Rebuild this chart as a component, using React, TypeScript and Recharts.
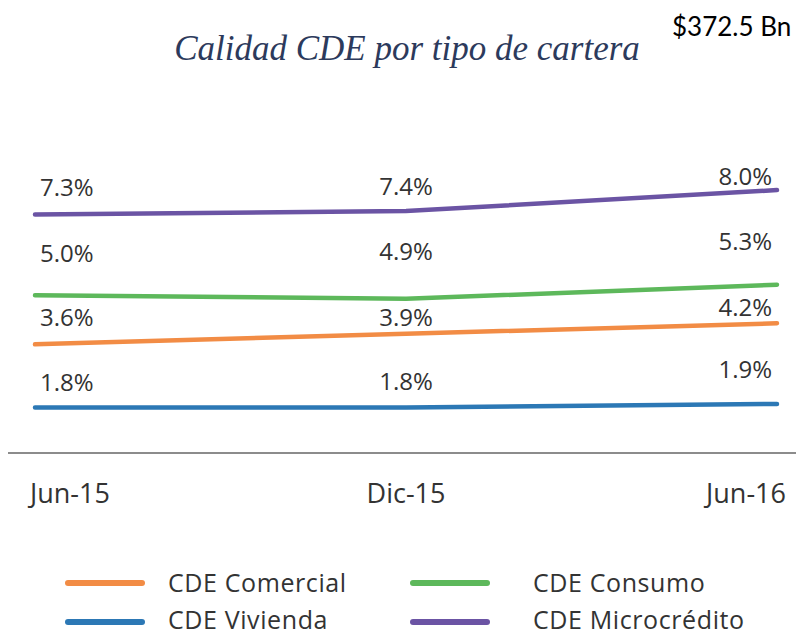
import { LineChart, Line, XAxis, YAxis, LabelList } from "recharts";

const periodos = ["Jun-15", "Dic-15", "Jun-16"];
const comercial = [3.6, 3.9, 4.2];
const consumo = [5.0, 4.9, 5.3];
const vivienda = [1.8, 1.8, 1.9];
const microcredito = [7.3, 7.4, 8.0];

const TEXT = "#333333";
const SANS = "'Open Sans', 'Noto Sans', sans-serif";

// how far each value label sits above its point (px), per point
const series = [
  { key: "comercial", name: "CDE Comercial", color: "#F28C45", lift: [27, 16, 16] },
  { key: "consumo", name: "CDE Consumo", color: "#5DB85B", lift: [42, 47, 43] },
  { key: "vivienda", name: "CDE Vivienda", color: "#2C78B5", lift: [25, 26, 34] },
  { key: "microcredito", name: "CDE Microcrédito", color: "#6B54A4", lift: [27, 25, 14] },
];

const data = periodos.map((p, i) => ({
  periodo: p,
  comercial: comercial[i],
  consumo: consumo[i],
  vivienda: vivienda[i],
  microcredito: microcredito[i],
}));

const last = periodos.length - 1;
const anchorFor = (i: number) => (i === 0 ? "start" : i === last ? "end" : "middle");

const PeriodTick = (props: any) => {
  const { x, y, payload, index } = props;
  const dx = index === 0 ? -5 : index === last ? 9 : 0;
  return (
    <text
      x={x + dx}
      y={y + 42}
      textAnchor={anchorFor(index)}
      fontFamily={SANS}
      fontSize={27}
      fill={TEXT}
    >
      {payload.value}
    </text>
  );
};

const makeLabel = (lift: number[]) => (props: any) => {
  const { x, y, value, index } = props;
  const dx = index === 0 ? 5 : index === last ? -5 : 0;
  return (
    <text
      x={x + dx}
      y={y - lift[index] + 8.5}
      textAnchor={anchorFor(index)}
      fontFamily={SANS}
      fontSize={24}
      fill={TEXT}
    >
      {value.toFixed(1)}%
    </text>
  );
};

const legendCols = [
  { line: 65, text: 168 },
  { line: 410, text: 533 },
];
const legendRows = [
  { line: 580, text: 570 },
  { line: 619, text: 607 },
];

export default function App() {
  return (
    <div
      style={{
        position: "absolute",
        left: 0,
        top: 0,
        width: 796,
        height: 636,
        background: "#fff",
        overflow: "hidden",
      }}
    >
      <div
        style={{
          position: "absolute",
          left: 107,
          top: 31,
          width: 600,
          textAlign: "center",
          fontFamily: "'Liberation Serif', serif",
          fontStyle: "italic",
          fontSize: 35,
          lineHeight: 1,
          color: "#2C3A5C",
        }}
      >
        Calidad CDE por tipo de cartera
      </div>
      <div
        style={{
          position: "absolute",
          left: 672,
          top: 13,
          fontFamily: "Lato, sans-serif",
          fontSize: 26,
          lineHeight: 1,
          color: "#000",
          whiteSpace: "nowrap",
        }}
      >
        $372.5 Bn
      </div>

      <div style={{ position: "absolute", left: 0, top: 0 }}>
        <LineChart
          width={796}
          height={520}
          data={data}
          margin={{ top: 155, right: 0, left: 8, bottom: 0 }}
        >
          <XAxis
            dataKey="periodo"
            height={67}
            interval={0}
            padding={{ left: 27, right: 19 }}
            axisLine={{ stroke: "#8C8C8C", strokeWidth: 2 }}
            tickLine={false}
            tick={<PeriodTick />}
          />
          <YAxis hide type="number" domain={[0.5, 9]} allowDataOverflow />
          {series.map((s) => (
            <Line
              key={s.key}
              type="linear"
              dataKey={s.key}
              name={s.name}
              stroke={s.color}
              strokeWidth={4.5}
              strokeLinecap="round"
              dot={false}
              activeDot={false}
              isAnimationActive={false}
            >
              <LabelList dataKey={s.key} content={makeLabel(s.lift)} />
            </Line>
          ))}
        </LineChart>
      </div>

      {series.map((s, i) => {
        const col = legendCols[i % 2];
        const row = legendRows[Math.floor(i / 2)];
        return (
          <div key={s.key}>
            <div
              style={{
                position: "absolute",
                left: col.line,
                top: row.line,
                width: 80,
                height: 6,
                borderRadius: 3,
                background: s.color,
              }}
            />
            <div
              style={{
                position: "absolute",
                left: col.text,
                top: row.text,
                fontFamily: SANS,
                fontSize: 25,
                letterSpacing: 0.6,
                lineHeight: 1,
                color: TEXT,
                whiteSpace: "nowrap",
              }}
            >
              {s.name}
            </div>
          </div>
        );
      })}
    </div>
  );
}
